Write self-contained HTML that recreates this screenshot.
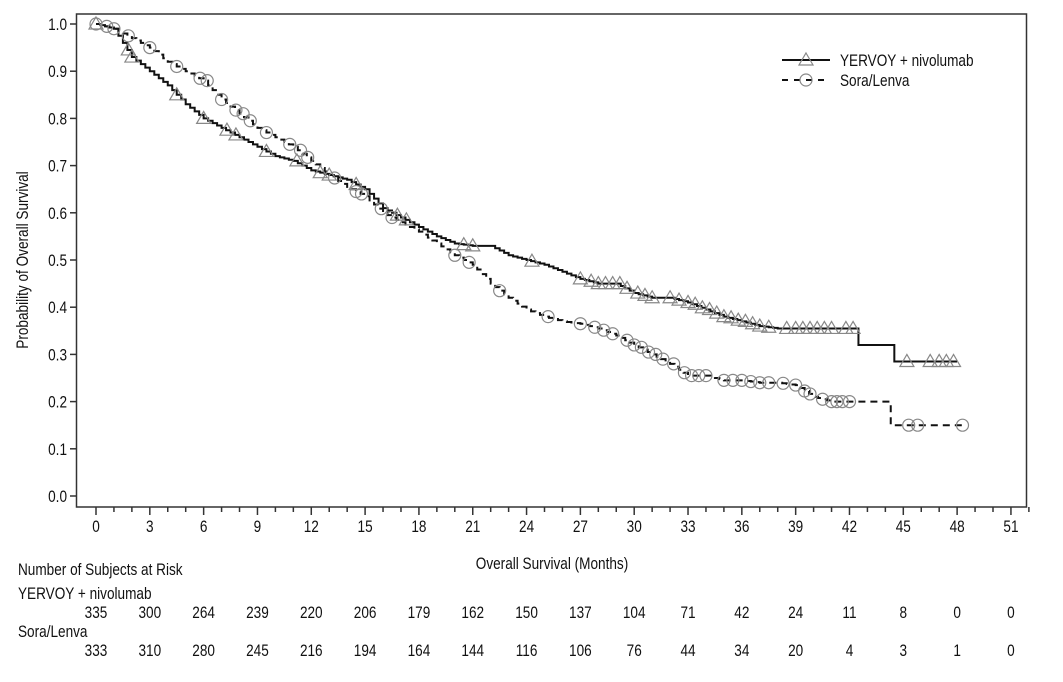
<!DOCTYPE html>
<html><head><meta charset="utf-8"><style>
body{margin:0;background:#fff;}
svg text{font-family:"Liberation Sans Narrow","Liberation Sans",sans-serif;font-size:17px;fill:#111;}
</style></head><body>
<svg id="s" width="1063" height="677" xmlns="http://www.w3.org/2000/svg"></svg>
<script>
const s=document.getElementById('s');
const X=m=>96+m*17.94, Y=v=>496-v*472;
const T=(x,y,t,a)=>{a=a||'start';return `<text transform="translate(${x},${y}) scale(0.8,1)" text-anchor="${a}">${t}</text>`;};
let h='<rect x="0" y="0" width="1063" height="677" fill="#fff"/>';
h+='<rect x="76.5" y="14" width="950" height="493" fill="none" stroke="#333" stroke-width="1.5"/>';
for(let i=0;i<=10;i++){const y=Y(i/10);h+=`<line x1="70" x2="76" y1="${y}" y2="${y}" stroke="#333" stroke-width="1.5"/>`+T(67,y+6,(i/10).toFixed(1),'end');}
for(let m=0;m<=52;m++){const x=X(m);const maj=m%3==0;h+=`<line x1="${x}" x2="${x}" y1="507" y2="${maj?515:512}" stroke="#333" stroke-width="1.5"/>`;if(maj&&m<=51)h+=T(x,532,m,'middle');}
h+=`<text transform="translate(28,260) rotate(-90) scale(0.8,1)" text-anchor="middle">Probability of Overall Survival</text>`;
h+=T(552,569,'Overall Survival (Months)','middle');
h+=T(18,575,'Number of Subjects at Risk')+T(18,599,'YERVOY + nivolumab')+T(18,637,'Sora/Lenva');
const r1=[335,300,264,239,220,206,179,162,150,137,104,71,42,24,11,8,0,0],r2=[333,310,280,245,216,194,164,144,116,106,76,44,34,20,4,3,1,0];
r1.forEach((v,i)=>{h+=T(X(i*3),618,v,'middle');});
r2.forEach((v,i)=>{h+=T(X(i*3),656,v,'middle');});
const A=[[0,1],[1,0.99],[1.5,0.96],[2,0.93],[3,0.9],[4,0.87],[5,0.83],[6,0.8],[7,0.78],[8,0.76],[9,0.74],[10,0.72],[11,0.71],[12,0.69],[13,0.68],[14,0.67],[15,0.65],[16,0.61],[17,0.59],[18,0.57],[19,0.55],[20,0.535],[21,0.53],[22,0.53],[23,0.51],[24,0.5],[25,0.49],[26,0.475],[27,0.46],[28,0.45],[29,0.45],[30,0.43],[31,0.42],[32,0.42],[33,0.41],[34,0.395],[35,0.38],[36,0.37],[37,0.36],[38,0.355],[42.5,0.355],[42.5,0.32],[44.5,0.32],[44.5,0.285],[48,0.285]];
const B=[[0,1],[1,0.99],[2,0.97],[3,0.95],[4,0.92],[5,0.9],[6,0.88],[7,0.84],[8,0.81],[9,0.78],[10,0.76],[11,0.74],[12,0.71],[13,0.68],[14,0.655],[15,0.635],[16,0.6],[17,0.58],[18,0.56],[19,0.535],[20,0.51],[21,0.49],[22,0.45],[23,0.42],[24,0.395],[25,0.38],[26,0.37],[27,0.365],[28,0.355],[29,0.34],[30,0.32],[31,0.3],[32,0.28],[33,0.255],[34,0.255],[35,0.245],[36,0.245],[37,0.24],[38,0.24],[39,0.235],[40,0.21],[41,0.2],[42,0.2],[44.3,0.2],[44.3,0.15],[48.3,0.15]];
function fine(d,lim){const o=[d[0]];for(let i=1;i<d.length;i++){const a=d[i-1],b=d[i];if(b[0]<=lim&&b[0]-a[0]>0.3&&b[1]!==a[1]){const n=Math.round((b[0]-a[0])/0.25);for(let k=1;k<n;k++)o.push([a[0]+(b[0]-a[0])*k/n,a[1]+(b[1]-a[1])*k/n]);}o.push(b);}return o;}
const FA=fine(A,42),FB=fine(B,42);
function path(d){let p=`M${X(d[0][0])},${Y(d[0][1])}`;for(let i=1;i<d.length;i++){p+=`H${X(d[i][0])}V${Y(d[i][1])}`;}return p;}
function at(d,m){let v=1;for(const q of d){if(q[0]<=m)v=q[1];}return v;}
h+=`<path d="${path(FA)}" fill="none" stroke="#111" stroke-width="2"/>`;
h+=`<path d="${path(FB)}" fill="none" stroke="#111" stroke-width="2" stroke-dasharray="7,5"/>`;
const tri=(x,y)=>`<path d="M${x},${y-7}L${x+7},${y+5}L${x-7},${y+5}Z" fill="none" stroke="#888" stroke-width="1.2"/>`;
const cir=(x,y)=>`<circle cx="${x}" cy="${y}" r="6" fill="none" stroke="#888" stroke-width="1.2"/>`;
const tA=[0,1.8,2,4.5,6,7.3,7.8,9.5,11.2,12.5,13,14.5,16.8,17.3,20.5,21,24.3,27,27.6,28,28.4,28.8,29.2,29.6,30.2,30.6,31,32,32.5,33,33.4,33.8,34.2,34.6,35,35.4,35.8,36.2,36.6,37,37.5,38.5,39,39.4,39.8,40.2,40.6,41,41.8,42.2,45.2,46.5,47,47.4,47.8];
tA.forEach(m=>h+=tri(X(m),Y(at(FA,m))));
const cB=[0,0.6,1,1.8,3,4.5,5.8,6.2,7,7.8,8.2,8.6,9.5,10.8,11.4,11.8,13.3,14.5,14.8,15.9,16.5,20,20.8,22.5,25.2,27,27.8,28.3,28.8,29.6,30,30.4,30.8,31.2,31.6,32.2,32.8,33.2,33.6,34,35,35.5,36,36.5,37,37.5,38.3,39,39.5,39.8,40.5,41,41.3,41.6,42,45.3,45.8,48.3];
cB.forEach(m=>h+=cir(X(m),Y(at(FB,m))));
h+=`<line x1="782" x2="830" y1="60" y2="60" stroke="#111" stroke-width="2"/>`+tri(806,60);
h+=`<line x1="782" x2="830" y1="80" y2="80" stroke="#111" stroke-width="2" stroke-dasharray="6,6"/>`+cir(806,80);
h+=T(840,66,'YERVOY + nivolumab')+T(840,86,'Sora/Lenva');
s.innerHTML=h;
</script>
</body></html>
